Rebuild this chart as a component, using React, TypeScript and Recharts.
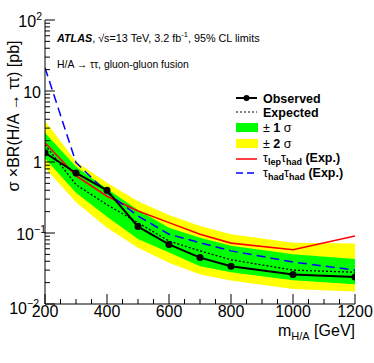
import React from 'react';
import { ComposedChart, Line, Area, XAxis, YAxis } from 'recharts';

const masses = [200, 300, 400, 500, 600, 700, 800, 1000, 1200];
const observed = [1.35, 0.70, 0.40, 0.123, 0.069, 0.045, 0.034, 0.026, 0.024];
const expected = [1.75, 0.48, 0.25, 0.14, 0.077, 0.056, 0.042, 0.030, 0.028];
const band1Lo = [1.12, 0.37, 0.17, 0.082, 0.053, 0.034, 0.028, 0.0216, 0.019];
const band1Hi = [2.59, 0.86, 0.42, 0.21, 0.119, 0.086, 0.066, 0.050, 0.043];
const band2Lo = [0.83, 0.27, 0.119, 0.062, 0.038, 0.026, 0.0215, 0.0162, 0.015];
const band2Hi = [3.78, 1.02, 0.51, 0.28, 0.18, 0.125, 0.096, 0.073, 0.071];
const lepHad = [1.87, 0.64, 0.33, 0.204, 0.14, 0.096, 0.072, 0.058, 0.091];
const hadHad = [21.3, 0.98, 0.37, 0.174, 0.096, 0.073, 0.056, 0.039, 0.030];

const xMajorTicks = [200, 400, 600, 800, 1000, 1200];
const xAllTicks = [200, 250, 300, 350, 400, 450, 500, 550, 600, 650, 700, 750, 800, 850, 900, 950, 1000, 1050, 1100, 1150, 1200];
const yMajorTicks = [0.01, 0.1, 1, 10, 100];
const yAllTicks = [
  0.01, 0.02, 0.03, 0.04, 0.05, 0.06, 0.07, 0.08, 0.09,
  0.1, 0.2, 0.3, 0.4, 0.5, 0.6, 0.7, 0.8, 0.9,
  1, 2, 3, 4, 5, 6, 7, 8, 9,
  10, 20, 30, 40, 50, 60, 70, 80, 90, 100,
];
const yTickBase: Record<string, string> = { '0.01': '10', '0.1': '10', '1': '1', '10': '10', '100': '10' };
const yTickExp: Record<string, string> = { '0.01': '\u22122', '0.1': '\u22121', '1': '', '10': '', '100': '2' };

const data = masses.map((m, i) => ({
  m,
  obs: observed[i],
  exp: expected[i],
  band1: [band1Lo[i], band1Hi[i]],
  band2: [band2Lo[i], band2Hi[i]],
  lh: lepHad[i],
  hh: hadHad[i],
}));

const FONT = '"Liberation Sans", Arial, Helvetica, sans-serif';

const isMajorY = (v: number) => yMajorTicks.some((t) => Math.abs(t - v) < 1e-9);

const XTickBottom = (props: any) => {
  const { x, y, payload } = props;
  const major = xMajorTicks.includes(payload.value);
  return (
    <g>
      <line x1={x} x2={x} y1={y} y2={y - (major ? 10 : 5)} stroke="#000" strokeWidth={1} />
      {major && (
        <text x={x} y={y + 13} textAnchor="middle" fontSize={16} fontFamily={FONT} fill="#000">
          {payload.value}
        </text>
      )}
    </g>
  );
};

const XTickTop = (props: any) => {
  const { x, y, payload } = props;
  const major = xMajorTicks.includes(payload.value);
  return <line x1={x} x2={x} y1={y} y2={y + (major ? 10 : 5)} stroke="#000" strokeWidth={1} />;
};

const labelShift: Record<string, number> = { '0.01': -6, '0.1': 1, '1': -3, '10': -4, '100': -3 };
const labelDrop: Record<string, number> = { '0.01': 10, '0.1': 7, '1': 6, '10': 7, '100': 7 };

const YTickLeft = (props: any) => {
  const { x, y, payload } = props;
  const v = payload.value as number;
  const major = isMajorY(v);
  const key = String(v);
  const exp = major ? yTickExp[key] : '';
  return (
    <g>
      <line x1={x} x2={x + (major ? 10 : 5)} y1={y} y2={y} stroke="#000" strokeWidth={1} />
      {major && (
        <text
          x={x + labelShift[key]}
          y={y + labelDrop[key]}
          textAnchor="end"
          fontSize={16}
          fontFamily={FONT}
          fill="#000"
        >
          <tspan>{yTickBase[key]}</tspan>
          {exp && (
            <tspan dy={-7} fontSize={10.5}>
              {exp}
            </tspan>
          )}
        </text>
      )}
    </g>
  );
};

const YTickRight = (props: any) => {
  const { x, y, payload } = props;
  const major = isMajorY(payload.value);
  return <line x1={x} x2={x - (major ? 10 : 5)} y1={y} y2={y} stroke="#000" strokeWidth={1} />;
};

const LegendBlock = () => {
  const lx1 = 236;
  const lx2 = 257;
  const tx = 263;
  const fs = 12.5;
  return (
    <g fontFamily={FONT} fontSize={fs} fontWeight="bold" fill="#000">
      <line x1={lx1} x2={lx2} y1={98} y2={98} stroke="#000" strokeWidth={2} />
      <circle cx={(lx1 + lx2) / 2} cy={98} r={3} fill="#000" />
      <text x={tx} y={102.5}>Observed</text>

      <line x1={lx1} x2={lx2} y1={112} y2={112} stroke="#000" strokeWidth={1.2} strokeDasharray="2 2" />
      <text x={tx} y={116.5}>Expected</text>

      <rect x={lx1} y={123} width={22} height={9} fill="#00ff00" />
      <text x={tx} y={132}>
        <tspan fontWeight="normal">±</tspan> 1 <tspan fontWeight="normal">σ</tspan>
      </text>

      <rect x={lx1} y={139} width={22} height={9} fill="#ffff00" />
      <text x={tx} y={148}>
        <tspan fontWeight="normal">±</tspan> 2 <tspan fontWeight="normal">σ</tspan>
      </text>

      <line x1={lx1} x2={lx2} y1={159} y2={159} stroke="#ff0000" strokeWidth={1.5} />
      <text x={tx} y={162}>
        <tspan fontWeight="normal">τ</tspan>
        <tspan fontSize={9} dy={3}>lep</tspan>
        <tspan fontWeight="normal" dy={-3}>τ</tspan>
        <tspan fontSize={9} dy={3}>had</tspan>
        <tspan dy={-3}> (Exp.)</tspan>
      </text>

      <line x1={lx1} x2={lx2} y1={173} y2={173} stroke="#0000ff" strokeWidth={1.5} strokeDasharray="7 4" />
      <text x={tx} y={176.5}>
        <tspan fontWeight="normal">τ</tspan>
        <tspan fontSize={9} dy={3}>had</tspan>
        <tspan fontWeight="normal" dy={-3}>τ</tspan>
        <tspan fontSize={9} dy={3}>had</tspan>
        <tspan dy={-3}> (Exp.)</tspan>
      </text>
    </g>
  );
};

const Annotations = () => (
  <g fontFamily={FONT} fill="#000">
    <text x={57} y={42} fontSize={10.8}>
      <tspan fontWeight="bold" fontStyle="italic">ATLAS</tspan>
      <tspan>, √s=13 TeV, 3.2 fb</tspan>
      <tspan fontSize={7.5} dy={-5}>-1</tspan>
      <tspan dy={5}>, 95% CL limits</tspan>
    </text>
    <text x={57} y={68} fontSize={10.4}>
      H/A → ττ, gluon-gluon fusion
    </text>
    <text x={355} y={336} fontSize={16} textAnchor="end">
      <tspan>m</tspan>
      <tspan fontSize={11} dy={4}>H/A</tspan>
      <tspan dy={-4}> [GeV]</tspan>
    </text>
    <text x={19} y={116} fontSize={16} textAnchor="middle" transform="rotate(-90 19 116)">
      σ ×BR(H/A → ττ) [pb]
    </text>
  </g>
);

export default function App() {
  return (
    <div style={{ position: 'absolute', left: 0, top: 0, width: 374, height: 363, background: '#fff' }}>
      <ComposedChart width={374} height={363} data={data} margin={{ top: 20, right: 19, bottom: 0, left: 0 }}>
        <XAxis
          xAxisId="main"
          dataKey="m"
          type="number"
          domain={[200, 1200]}
          allowDataOverflow
          ticks={xAllTicks}
          interval={0}
          tickSize={0}
          tickMargin={0}
          tickLine={false}
          axisLine={{ stroke: '#000' }}
          tick={<XTickBottom />}
          height={59}
          orientation="bottom"
        />
        <XAxis
          xAxisId="top"
          dataKey="m"
          type="number"
          domain={[200, 1200]}
          allowDataOverflow
          ticks={xAllTicks}
          interval={0}
          tickSize={0}
          tickMargin={0}
          tickLine={false}
          axisLine={{ stroke: '#000' }}
          tick={<XTickTop />}
          height={0}
          orientation="top"
        />
        <YAxis
          yAxisId="main"
          type="number"
          scale="log"
          domain={[0.01, 100]}
          allowDataOverflow
          ticks={yAllTicks}
          interval={0}
          tickSize={0}
          tickMargin={0}
          tickLine={false}
          axisLine={{ stroke: '#000' }}
          tick={<YTickLeft />}
          width={45}
          orientation="left"
        />
        <YAxis
          yAxisId="right"
          type="number"
          scale="log"
          domain={[0.01, 100]}
          allowDataOverflow
          ticks={yAllTicks}
          interval={0}
          tickSize={0}
          tickMargin={0}
          tickLine={false}
          axisLine={{ stroke: '#000' }}
          tick={<YTickRight />}
          width={0}
          orientation="right"
        />
        <Area xAxisId="main" yAxisId="main" type="linear" dataKey="band2" fill="#ffff00" fillOpacity={1} stroke="none" isAnimationActive={false} />
        <Area xAxisId="main" yAxisId="main" type="linear" dataKey="band1" fill="#00ff00" fillOpacity={1} stroke="none" isAnimationActive={false} />
        <Line xAxisId="main" yAxisId="main" type="linear" dataKey="exp" stroke="#000" strokeWidth={1.3} strokeDasharray="2 2" dot={false} isAnimationActive={false} />
        <Line xAxisId="main" yAxisId="main" type="linear" dataKey="lh" stroke="#ff0000" strokeWidth={1.6} dot={false} isAnimationActive={false} />
        <Line xAxisId="main" yAxisId="main" type="linear" dataKey="hh" stroke="#0000ff" strokeWidth={1.5} strokeDasharray="9 5" dot={false} isAnimationActive={false} />
        <Line xAxisId="main" yAxisId="main" type="linear" dataKey="obs" stroke="#000" strokeWidth={2} dot={{ r: 3.5, fill: '#000', stroke: '#000', strokeWidth: 0 }} isAnimationActive={false} />
        <Line xAxisId="top" yAxisId="right" type="linear" dataKey="obs" stroke="none" dot={false} activeDot={false} isAnimationActive={false} />
        <Annotations />
        <LegendBlock />
      </ComposedChart>
    </div>
  );
}
